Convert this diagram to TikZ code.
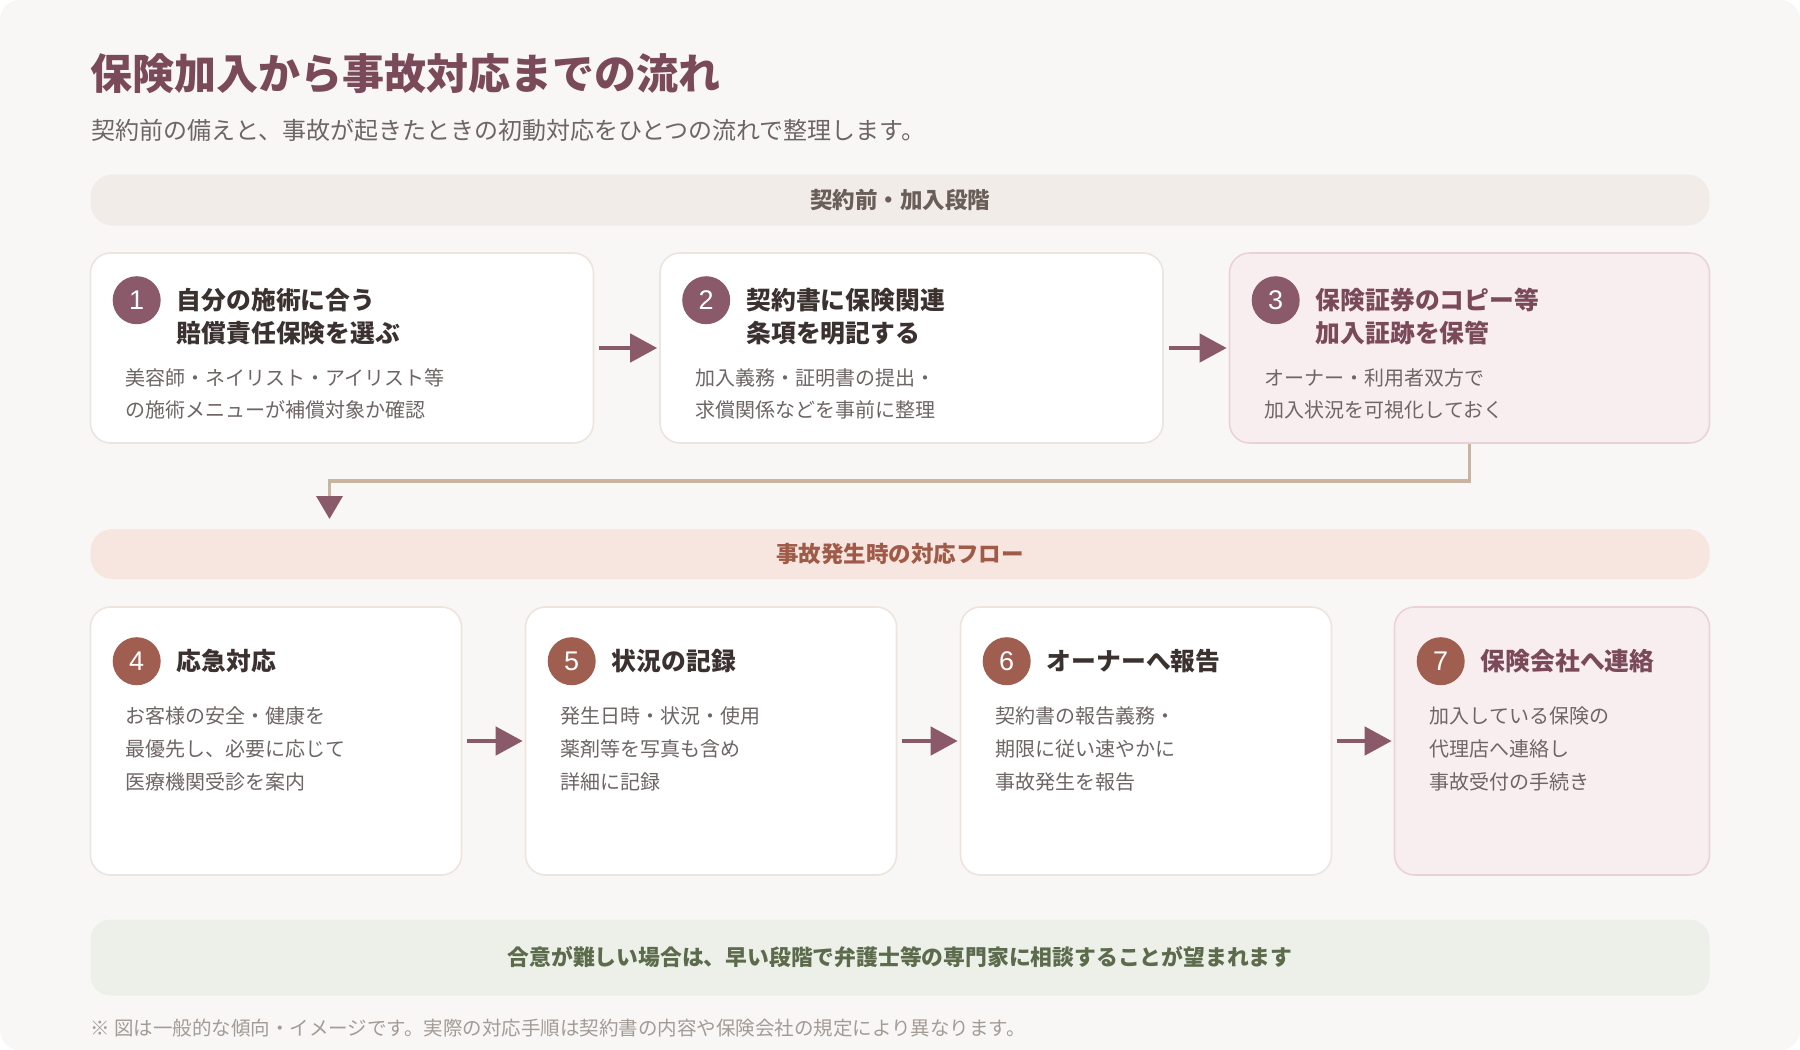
\documentclass[tikz,border=0pt]{standalone}
\usepackage{fontspec}
\setmainfont{Noto Sans CJK JP}
\newfontfamily\numfont{Liberation Sans}
\usetikzlibrary{arrows.meta,calc}
\definecolor{bgc}{HTML}{F8F7F5}
\definecolor{bandA}{HTML}{F1ECE8}
\definecolor{bandB}{HTML}{F6E6DF}
\definecolor{bandC}{HTML}{EDF0E8}
\definecolor{wborder}{HTML}{EDE4DE}
\definecolor{pinkfill}{HTML}{F8EEF0}
\definecolor{pinkborder}{HTML}{E9D3D9}
\definecolor{mauve}{HTML}{8A5A6B}
\definecolor{terra}{HTML}{A05E50}
\definecolor{tan}{HTML}{C8B49F}
\definecolor{titlec}{HTML}{7A4A5A}
\definecolor{darkt}{HTML}{3B3230}
\definecolor{grayt}{HTML}{6E6565}
\definecolor{bandAt}{HTML}{6B5E58}
\definecolor{bandBt}{HTML}{A05A48}
\definecolor{bandCt}{HTML}{5C6B4C}
\definecolor{footc}{HTML}{A39B95}
\tikzset{
  box/.style={draw=wborder, fill=white, line width=1.6pt, rounded corners=20pt, inner sep=0pt},
  pinkbox/.style={box, draw=pinkborder, fill=pinkfill},
  band/.style={rounded corners=22pt, inner sep=0pt, minimum width=1619pt},
  numc/.style={circle, inner sep=0pt, minimum size=48pt, text=white, font=\numfont\fontsize{27}{27}\selectfont},
  ttl/.style={anchor=west, inner sep=0pt, text=darkt, text height=0.88em, text depth=0.12em, font=\fontsize{24.8}{24.8}\selectfont\bfseries},
  dsc/.style={anchor=west, inner sep=0pt, text=grayt, text height=0.88em, text depth=0.12em, font=\fontsize{20}{20}\selectfont},
  flowarrow/.style={draw=mauve, line width=4.5pt, -{Triangle[length=27pt,width=28pt]}, shorten <=5pt, shorten >=2pt}
}
\begin{document}
\begin{tikzpicture}[x=1pt,y=-1pt]
\fill[white] (0,0) rectangle (1800,1050);
\fill[bgc, rounded corners=20pt] (0,0) rectangle (1800,1050);
\useasboundingbox (0,0) rectangle (1800,1050);

% heading
\node[anchor=west, inner sep=0pt, text=titlec, font=\fontsize{42}{42}\selectfont\bfseries] (title) at (90,73.5) {保険加入から事故対応までの流れ};
\node[anchor=west, inner sep=0pt, text=grayt, font=\fontsize{24}{24}\selectfont] (sub) at (91,130) {契約前の備えと、事故が起きたときの初動対応をひとつの流れで整理します。};

% band 1
\node[band, fill=bandA, minimum height=51pt, text=bandAt, font=\fontsize{22.5}{22.5}\selectfont\bfseries] (bandA) at (900,200) {契約前・加入段階};

% row 1 boxes
\node[box, minimum width=503pt, minimum height=190pt] (b1) at (342,348) {};
\node[box, minimum width=503pt, minimum height=190pt] (b2) at (911.5,348) {};
\node[pinkbox, minimum width=480pt, minimum height=190pt] (b3) at (1469.5,348) {};

\foreach \b/\n/\ta/\tb/\da/\db/\tc in {
  b1/1/自分の施術に合う/賠償責任保険を選ぶ/美容師・ネイリスト・アイリスト等/の施術メニューが補償対象か確認/darkt,
  b2/2/契約書に保険関連/条項を明記する/加入義務・証明書の提出・/求償関係などを事前に整理/darkt,
  b3/3/保険証券のコピー等/加入証跡を保管/オーナー・利用者双方で/加入状況を可視化しておく/titlec}{
  \node[numc, fill=mauve] (\b n) at ($(\b.north west)+(47,48)$) {\n};
  \node[ttl, text=\tc] (\b ta) at ($(\b.north west)+(87,53)$) {\ta};
  \node[ttl, text=\tc] (\b tb) at ($(\b.north west)+(87,86)$) {\tb};
  \node[dsc] (\b da) at ($(\b.north west)+(36,129)$) {\da};
  \node[dsc] (\b db) at ($(\b.north west)+(36,161)$) {\db};
}

\draw[flowarrow] (b1.east) -- (b2.west);
\draw[flowarrow] (b2.east) -- (b3.west);

% connector down to band 2
\coordinate (cend) at (329.5,519);
\draw[draw=tan, line width=3.5pt, -{Triangle[length=23pt,width=26pt,color=mauve]}] (b3.south) -- ++(0,37) -| (cend);

% band 2
\node[band, fill=bandB, minimum height=50pt, text=bandBt, font=\fontsize{22.5}{22.5}\selectfont\bfseries] (bandB) at (900,554) {事故発生時の対応フロー};

% row 2 boxes
\node[box, minimum width=371pt, minimum height=268pt] (b4) at (276,741) {};
\node[box, minimum width=371pt, minimum height=268pt] (b5) at (711,741) {};
\node[box, minimum width=371pt, minimum height=268pt] (b6) at (1146,741) {};
\node[pinkbox, minimum width=315pt, minimum height=268pt] (b7) at (1552,741) {};

\foreach \b/\n/\ta/\da/\db/\dc/\tc in {
  b4/4/応急対応/お客様の安全・健康を/最優先し、必要に応じて/医療機関受診を案内/darkt,
  b5/5/状況の記録/発生日時・状況・使用/薬剤等を写真も含め/詳細に記録/darkt,
  b6/6/オーナーへ報告/契約書の報告義務・/期限に従い速やかに/事故発生を報告/darkt,
  b7/7/保険会社へ連絡/加入している保険の/代理店へ連絡し/事故受付の手続き/titlec}{
  \node[numc, fill=terra] (\b n) at ($(\b.north west)+(47,55)$) {\n};
  \node[ttl, text=\tc] (\b ta) at ($(\b.north west)+(87,60)$) {\ta};
  \node[dsc] (\b da) at ($(\b.north west)+(36,113)$) {\da};
  \node[dsc] (\b db) at ($(\b.north west)+(36,146.5)$) {\db};
  \node[dsc] (\b dc) at ($(\b.north west)+(36,179)$) {\dc};
}

\draw[flowarrow] (b4.east) -- (b5.west);
\draw[flowarrow] (b5.east) -- (b6.west);
\draw[flowarrow] (b6.east) -- (b7.west);

% bottom note
\node[band, fill=bandC, minimum height=76pt, rounded corners=20pt, text=bandCt, font=\fontsize{21.8}{21.8}\selectfont\bfseries] (bandC) at (900,957.5) {合意が難しい場合は、早い段階で弁護士等の専門家に相談することが望まれます};

\node[anchor=west, inner sep=0pt, text=footc, font=\fontsize{19.5}{19.5}\selectfont] (foot) at (90,1028) {※ 図は一般的な傾向・イメージです。実際の対応手順は契約書の内容や保険会社の規定により異なります。};
\end{tikzpicture}
\end{document}
